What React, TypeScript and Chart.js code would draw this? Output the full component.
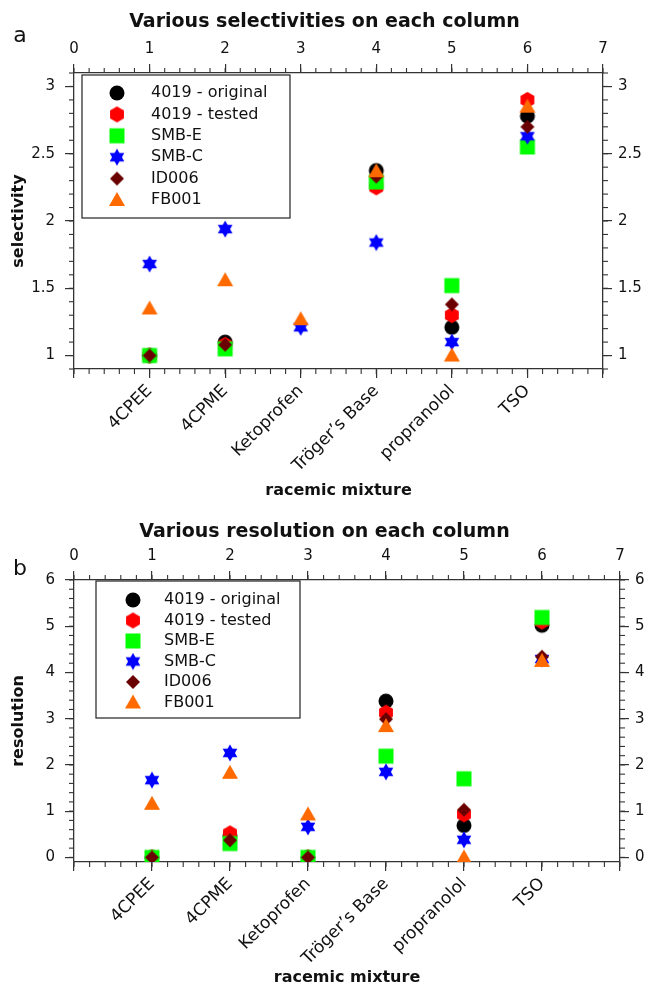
import React, { useEffect, useRef } from 'react';
import { Chart, registerables } from 'chart.js';

Chart.register(...registerables);

// ---------- data ----------
const categories = ['4CPEE', '4CPME', 'Ketoprofen', 'Tröger’s Base', 'propranolol', 'TSO'];
const seriesNames = ['4019 - original', '4019 - tested', 'SMB-E', 'SMB-C', 'ID006', 'FB001'];
const seriesColors = ['#000000', '#ff0000', '#00ff00', '#0000ff', '#6b0000', '#ff6a00'];
const seriesShapes = ['circle', 'hexagon', 'square', 'star', 'diamond', 'triangle'];

// panel a: selectivity
const selOriginal = [1.0, 1.1, null, 2.375, 1.21, 2.78];
const selTested = [1.0, 1.08, null, 2.25, 1.3, 2.9];
const selSMBE = [1.0, 1.05, null, 2.29, 1.52, 2.55];
const selSMBC = [1.68, 1.94, 1.21, 1.84, 1.1, 2.63];
const selID006 = [1.0, 1.08, null, 2.33, 1.38, 2.7];
const selFB001 = [1.35, 1.56, 1.27, 2.37, 1.0, 2.85];

// panel b: resolution
const resOriginal = [0, 0.47, 0, 3.38, 0.69, 5.02];
const resTested = [0, 0.52, 0, 3.13, 0.93, 5.1];
const resSMBE = [0, 0.3, 0, 2.19, 1.7, 5.19];
const resSMBC = [1.67, 2.26, 0.66, 1.85, 0.38, 4.29];
const resID006 = [0, 0.37, 0, 2.99, 1.03, 4.34];
const resFB001 = [1.16, 1.83, 0.93, 2.84, 0.0, 4.25];

const FONT = '"DejaVu Sans", sans-serif';
const AXIS = '#333333';
const TEXT = '#111111';

function makeMarker(shape: string, color: string): HTMLCanvasElement {
  const size = 18;
  const c = document.createElement('canvas');
  c.width = size;
  c.height = size;
  const g = c.getContext('2d') as CanvasRenderingContext2D;
  const cx = size / 2;
  const cy = size / 2;
  g.fillStyle = color;
  const poly = (pts: number[][]) => {
    g.beginPath();
    pts.forEach((p, k) => (k === 0 ? g.moveTo(p[0], p[1]) : g.lineTo(p[0], p[1])));
    g.closePath();
    g.fill();
  };
  const ring = (r: number, start: number, n: number) => {
    const pts: number[][] = [];
    for (let k = 0; k < n; k++) {
      const a = start + (k * 2 * Math.PI) / n;
      pts.push([cx + r * Math.cos(a), cy + r * Math.sin(a)]);
    }
    return pts;
  };
  switch (shape) {
    case 'circle':
      g.beginPath();
      g.arc(cx, cy, 7.5, 0, Math.PI * 2);
      g.fill();
      break;
    case 'hexagon':
      poly(ring(8, -Math.PI / 2, 6));
      break;
    case 'square':
      g.fillRect(cx - 7.5, cy - 7.5, 15, 15);
      break;
    case 'star':
      poly(ring(8.5, -Math.PI / 2, 3));
      poly(ring(8.5, Math.PI / 2, 3));
      break;
    case 'diamond':
      poly([[cx, cy - 7], [cx + 7, cy], [cx, cy + 7], [cx - 7, cy]]);
      break;
    case 'triangle':
      poly([[cx, cy - 8], [cx + 8, cy + 6], [cx - 8, cy + 6]]);
      break;
  }
  return c;
}

const minorTicksPlugin = {
  id: 'minorTicks',
  afterDraw(chart: any, _a: any, o: any) {
    const ctx = chart.ctx;
    ctx.save();
    ctx.strokeStyle = o.color;
    ctx.lineWidth = o.width;
    Object.keys(o.steps).forEach((id) => {
      const scale = chart.scales[id];
      if (!scale) return;
      const step = o.steps[id];
      const s = Math.ceil(scale.min / step - 1e-9);
      const e = Math.floor(scale.max / step + 1e-9);
      for (let k = s; k <= e; k++) {
        const p = scale.getPixelForValue(k * step);
        ctx.beginPath();
        if (scale.position === 'bottom') {
          ctx.moveTo(p, scale.top);
          ctx.lineTo(p, scale.top + o.length);
        } else if (scale.position === 'top') {
          ctx.moveTo(p, scale.bottom);
          ctx.lineTo(p, scale.bottom - o.length);
        } else if (scale.position === 'left') {
          ctx.moveTo(scale.right, p);
          ctx.lineTo(scale.right - o.length, p);
        } else {
          ctx.moveTo(scale.left, p);
          ctx.lineTo(scale.left + o.length, p);
        }
        ctx.stroke();
      }
    });
    ctx.restore();
  },
};

const panelLetterPlugin = {
  id: 'panelLetter',
  afterDraw(chart: any, _a: any, o: any) {
    const ctx = chart.ctx;
    ctx.save();
    ctx.font = o.font;
    ctx.fillStyle = o.color;
    ctx.textAlign = 'center';
    ctx.textBaseline = 'middle';
    ctx.fillText(o.text, o.x, o.y);
    ctx.restore();
  },
};

const legendFramePlugin = {
  id: 'legendFrame',
  afterLayout(chart: any, _a: any, o: any) {
    const lg = chart.legend;
    if (!lg) return;
    const ca = chart.chartArea;
    const left = ca.left + o.symbolX - o.padding - o.boxW / 2;
    const top = ca.top + o.firstRowY - o.padding - o.fontSize / 2;
    const w = lg.width;
    const h = lg.height;
    lg.left = left;
    lg.top = top;
    lg.right = left + w;
    lg.bottom = top + h;
  },
  afterDraw(chart: any, _a: any, o: any) {
    const ca = chart.chartArea;
    const ctx = chart.ctx;
    ctx.save();
    ctx.strokeStyle = o.color;
    ctx.lineWidth = o.lineWidth;
    ctx.strokeRect(ca.left + o.frameX, ca.top + o.frameY, o.frameW, o.frameH);
    ctx.restore();
  },
};

interface PanelSpec {
  canvasTop: number;
  height: number;
  title: string;
  titlePadTop: number;
  letter: string;
  letterX: number;
  letterY: number;
  yTitle: string;
  values: (number | null)[][];
  yMin: number;
  yMax: number;
  yStep: number;
  yMinor: number;
  topAxisH: number;
  topTickPad: number;
  bottomAxisH: number;
  leftW: number;
  rightW: number;
  xTitlePadBottom: number;
  legend: any;
}

const panelA: PanelSpec = {
  canvasTop: 0,
  height: 505,
  title: 'Various selectivities on each column',
  titlePadTop: 11,
  letter: 'a',
  letterX: 20,
  letterY: 36,
  yTitle: 'selectivity',
  values: [selOriginal, selTested, selSMBE, selSMBC, selID006, selFB001],
  yMin: 0.9,
  yMax: 3.1,
  yStep: 0.5,
  yMinor: 0.1,
  topAxisH: 39.2,
  topTickPad: 6,
  bottomAxisH: 136,
  leftW: 74,
  rightW: 46,
  xTitlePadBottom: 5,
  legend: { frameX: 8, frameY: 2, frameW: 208, frameH: 143, symbolX: 43, firstRowY: 20, gap: 34, rowStep: 21.4 },
};

const panelB: PanelSpec = {
  canvasTop: 505,
  height: 482,
  title: 'Various resolution on each column',
  titlePadTop: 15.6,
  letter: 'b',
  letterX: 20,
  letterY: 64,
  yTitle: 'resolution',
  values: [resOriginal, resTested, resSMBE, resSMBC, resID006, resFB001],
  yMin: -0.1,
  yMax: 6,
  yStep: 1,
  yMinor: 0.2,
  topAxisH: 36.6,
  topTickPad: 6,
  bottomAxisH: 125,
  leftW: 74,
  rightW: 29,
  xTitlePadBottom: 0,
  legend: { frameX: 22, frameY: 1, frameW: 204, frameH: 137, symbolX: 59, firstRowY: 20, gap: 31, rowStep: 20.5 },
};

const fmtTick = (v: any) => String(Math.round(Number(v) * 100) / 100);

function buildConfig(spec: PanelSpec, markers: HTMLCanvasElement[]): any {
  const legendFont = 16;
  const boxW = 2 * (spec.legend.gap - legendFont / 2);
  const legendPad = spec.legend.rowStep - legendFont;
  const datasets = seriesNames.map((name, i) => ({
    label: name,
    data: spec.values[i]
      .map((v, j) => (v === null ? null : { x: j + 1, y: v }))
      .filter((p) => p !== null),
    pointStyle: markers[i],
    pointRadius: 8,
    pointHoverRadius: 8,
    backgroundColor: seriesColors[i],
    borderColor: seriesColors[i],
    showLine: false,
    order: seriesNames.length - i,
  }));
  const grid = { drawOnChartArea: false, drawTicks: true, tickLength: 9, color: AXIS, lineWidth: 1.2 };
  const border = { display: true, color: AXIS, width: 1.3 };
  const tickFont = { family: FONT, size: 15 };
  const axisTitleFont = { family: FONT, size: 16, weight: 'bold', lineHeight: 1.2 };
  const yCommon = {
    type: 'linear',
    min: spec.yMin,
    max: spec.yMax,
    grid,
    border,
  };
  return {
    type: 'scatter',
    data: { datasets },
    options: {
      responsive: false,
      animation: false,
      events: [],
      layout: { padding: 0 },
      plugins: {
        tooltip: { enabled: false },
        title: {
          display: true,
          text: spec.title,
          color: TEXT,
          font: { family: FONT, size: 19, weight: 'bold', lineHeight: 1.2 },
          padding: { top: spec.titlePadTop, bottom: 0 },
        },
        legend: {
          display: true,
          position: 'chartArea',
          align: 'start',
          labels: {
            usePointStyle: true,
            pointStyleWidth: boxW,
            boxHeight: legendFont,
            padding: legendPad,
            color: TEXT,
            font: { family: FONT, size: legendFont },
            sort: (a: any, b: any) => a.datasetIndex - b.datasetIndex,
          },
        },
        legendFrame: {
          ...spec.legend,
          padding: legendPad,
          boxW,
          fontSize: legendFont,
          color: '#222222',
          lineWidth: 1.2,
        },
        minorTicks: {
          steps: { x: 0.2, x2: 0.2, y: spec.yMinor, y2: spec.yMinor },
          length: 5,
          color: AXIS,
          width: 1.1,
        },
        panelLetter: {
          text: spec.letter,
          x: spec.letterX,
          y: spec.letterY,
          font: `22px ${FONT}`,
          color: TEXT,
        },
      },
      scales: {
        x: {
          type: 'linear',
          position: 'bottom',
          min: 0,
          max: 7,
          grid,
          border,
          ticks: {
            stepSize: 1,
            autoSkip: false,
            maxRotation: 45,
            minRotation: 45,
            padding: 3,
            color: TEXT,
            font: { family: FONT, size: 17 },
            callback: (v: any) => categories[Math.round(Number(v)) - 1] ?? '',
          },
          title: {
            display: true,
            text: 'racemic mixture',
            color: TEXT,
            font: axisTitleFont,
            padding: { top: 0, bottom: spec.xTitlePadBottom },
          },
          afterFit: (s: any) => {
            s.height = spec.bottomAxisH;
          },
        },
        x2: {
          type: 'linear',
          position: 'top',
          min: 0,
          max: 7,
          grid,
          border,
          ticks: { stepSize: 1, autoSkip: false, maxRotation: 0, padding: spec.topTickPad, color: TEXT, font: tickFont },
          afterFit: (s: any) => {
            s.height = spec.topAxisH;
          },
        },
        y: {
          ...yCommon,
          position: 'left',
          ticks: { stepSize: spec.yStep, includeBounds: false, padding: 10, color: TEXT, font: tickFont, callback: fmtTick },
          title: {
            display: true,
            text: spec.yTitle,
            color: TEXT,
            font: axisTitleFont,
            padding: { top: 9, bottom: 0 },
          },
          afterFit: (s: any) => {
            s.width = spec.leftW;
          },
        },
        y2: {
          ...yCommon,
          position: 'right',
          ticks: { stepSize: spec.yStep, includeBounds: false, padding: 6, color: TEXT, font: tickFont, callback: fmtTick },
          afterFit: (s: any) => {
            s.width = spec.rightW;
          },
        },
      },
    },
    plugins: [minorTicksPlugin, panelLetterPlugin, legendFramePlugin],
  };
}

function Panel({ spec }: { spec: PanelSpec }) {
  const ref = useRef<HTMLCanvasElement | null>(null);
  useEffect(() => {
    if (!ref.current) return;
    const markers = seriesShapes.map((s, i) => makeMarker(s, seriesColors[i]));
    const chart = new Chart(ref.current, buildConfig(spec, markers));
    return () => chart.destroy();
  }, [spec]);
  return (
    <canvas
      ref={ref}
      width={649}
      height={spec.height}
      style={{ position: 'absolute', left: 0, top: spec.canvasTop, width: 649, height: spec.height, display: 'block' }}
    />
  );
}

export default function App() {
  return (
    <div style={{ position: 'absolute', left: 0, top: 0, width: 649, height: 987, background: '#ffffff' }}>
      <Panel spec={panelA} />
      <Panel spec={panelB} />
    </div>
  );
}
